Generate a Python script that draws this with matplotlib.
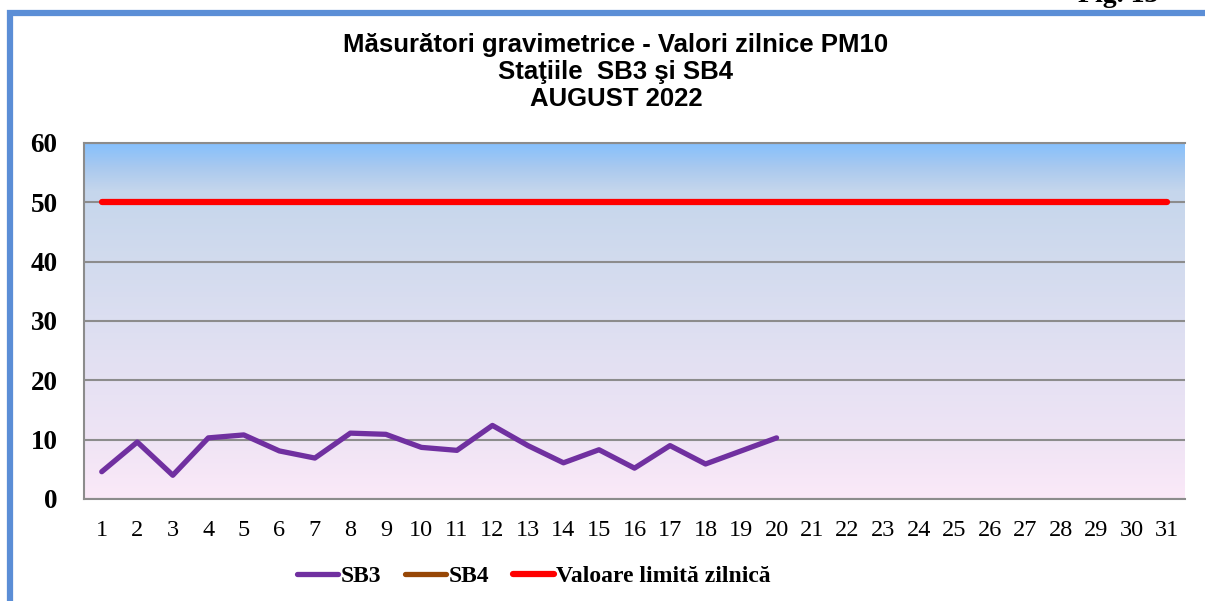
import numpy as np
import matplotlib.pyplot as plt
from matplotlib.colors import LinearSegmentedColormap
from matplotlib.patches import Rectangle

# Data (PM10 daily values, August 2022)
days = list(range(1, 32))
sb3 = [4.6, 9.6, 4.0, 10.3, 10.8, 8.1, 6.9, 11.1, 10.9, 8.7,
       8.2, 12.4, 9.0, 6.1, 8.3, 5.2, 9.0, 5.9, 8.1, 10.3]
sb4 = []  # no measurements
limit_value = 50
y_ticks = [0, 10, 20, 30, 40, 50, 60]

fig = plt.figure(figsize=(12.05, 6.01), dpi=100)
ax = fig.add_axes([84 / 1205, 102 / 601, 1101 / 1205, 356 / 601])

# gradient background of the plot area
stops = [(0.0, "#fbe9f8"), (10 / 60, "#efe4f5"), (25 / 60, "#e1e0f2"),
         (40 / 60, "#d2dbee"), (52 / 60, "#c5d6ec"), (56 / 60, "#a9c9ef"),
         (1.0, "#86c0fc")]
cmap = LinearSegmentedColormap.from_list("bg", stops)
grad = np.linspace(0, 1, 256).reshape(-1, 1)
ax.imshow(grad, cmap=cmap, origin="lower", aspect="auto",
          extent=[0.5, 31.5, 0, 60], zorder=0)

ax.set_xlim(0.5, 31.5)
ax.set_ylim(0, 60)
ax.set_yticks(y_ticks)
ax.set_xticks(days)
ax.grid(axis="y", color="#8c8c8c", linewidth=1.5, zorder=1)
ax.set_axisbelow(False)

ax.plot(days[:len(sb3)], sb3, color="#7030a0", linewidth=3.8,
        solid_capstyle="round", solid_joinstyle="round", label="SB3", zorder=3)
ax.plot(days[:len(sb4)], sb4, color="#974706", linewidth=3.8,
        solid_capstyle="round", label="SB4", zorder=3)
ax.plot(days, [limit_value] * len(days), color="#ff0000", linewidth=4.5,
        solid_capstyle="round", label="Valoare limită zilnică", zorder=3)

for s in ["left", "bottom", "top"]:
    ax.spines[s].set_color("#8c8c8c")
    ax.spines[s].set_linewidth(1.5)
ax.spines["right"].set_visible(False)

ax.tick_params(axis="both", length=0)
ax.tick_params(axis="y", pad=19)
ax.tick_params(axis="x", pad=15)
for lbl in ax.get_yticklabels():
    lbl.set_fontfamily("Liberation Serif")
    lbl.set_fontweight("bold")
    lbl.set_fontsize(19.5)
for lbl in ax.get_xticklabels():
    lbl.set_fontfamily("Liberation Serif")
    lbl.set_fontsize(17.5)

fig.text(616 / 1205, 1 - 72 / 601,
         "Măsurători gravimetrice - Valori zilnice PM10\nStaţiile  SB3 şi SB4\nAUGUST 2022",
         ha="center", va="center", fontsize=18.5, fontweight="bold",
         family="Liberation Sans", linespacing=1.16)

leg = fig.legend(loc="center", bbox_to_anchor=(534 / 1205, 1 - 576 / 601),
                 ncol=3, frameon=False, handlelength=1.75, handletextpad=0.1,
                 columnspacing=1.0,
                 prop={"family": "Liberation Serif", "weight": "bold", "size": 17})

# blue frame around the chart and clipped caption at the very top
fig.patches.append(Rectangle((10 / 1205, -0.1), 1.2, 1.1 - 12.5 / 601,
                             transform=fig.transFigure, fill=False,
                             edgecolor="#5b8ed6", linewidth=4.5))
fig.text(1078 / 1205, 1 - 2 / 601, "Fig. 13", ha="left", va="baseline",
         fontsize=20, family="Liberation Serif", fontweight="bold")

fig.savefig("out.png", dpi=100)
